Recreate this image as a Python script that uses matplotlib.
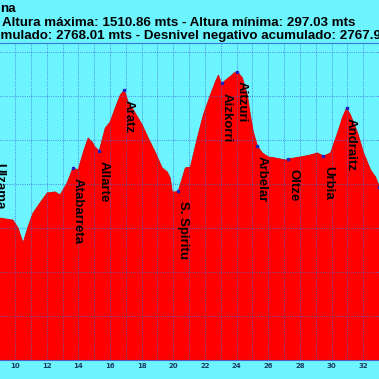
import numpy as np
import matplotlib.pyplot as plt

# perfil de altura (km, metros)
dist = [9.05, 9.87, 10.19, 10.51, 10.82, 11.14, 11.58, 12.03, 12.53, 12.85, 13.29, 13.61,
        13.67, 13.99, 14.30, 14.62, 14.87, 15.06, 15.32, 15.70, 16.01, 16.33, 16.65,
        16.90, 17.15, 17.59, 18.04, 18.42, 18.86, 19.30, 19.62, 19.81, 19.94, 20.13,
        20.32, 20.57, 20.76, 21.08, 21.52, 21.90, 22.34, 22.66, 22.85, 23.04, 23.10,
        23.48, 23.92, 24.05, 24.37, 24.68, 24.87, 25.06, 25.32, 25.63, 26.01, 26.46,
        27.09, 27.28, 28.04, 28.67, 29.11, 29.49, 29.94, 30.38, 30.70, 30.95, 31.20,
        31.65, 32.03, 32.47, 32.78, 33.04]
alt = [845, 836, 800, 732, 805, 868, 914, 959, 964, 950, 1005, 1064,
       1073, 1064, 1141, 1209, 1191, 1168, 1150, 1254, 1282, 1345, 1404,
       1427, 1373, 1323, 1268, 1209, 1145, 1073, 1055, 1027, 964, 964,
       968, 1027, 1073, 1077, 1209, 1314, 1404, 1464, 1495, 1459, 1459,
       1482, 1508, 1511, 1482, 1404, 1314, 1236, 1173, 1141, 1123, 1118,
       1109, 1114, 1123, 1132, 1141, 1127, 1141, 1232, 1304, 1345, 1314,
       1232, 1141, 1064, 1032, 986]

# puntos de paso
wp_name = ['Ulzama', 'Atabarreta', 'Allarte', 'Aratz', 'S. Spiritu', 'Aizkorri',
           'Aitzuri', 'Arbelar', 'Oltze', 'Urbia', 'Andraitz', 'Arantzazu']
wp_km = [8.73, 13.67, 15.32, 16.90, 20.32, 23.10, 24.05, 25.32, 27.28, 29.49, 30.95, 33.02]
wp_alt = [1141, 1073, 1150, 1427, 968, 1459, 1511, 1173, 1114, 1127, 1345, 986]

header = ['na',
          'Altura máxima: 1510.86 mts - Altura mínima: 297.03 mts',
          'Desnivel positivo acumulado: 2768.01 mts - Desnivel negativo acumulado: 2767.99 mts']

bg = '#6cf4ff'
fig = plt.figure(figsize=(3.79, 3.79), dpi=100)
fig.patch.set_facecolor(bg)
ax = fig.add_axes([0, 19 / 379, 1, 317 / 379])
ax.set_facecolor(bg)

ax.fill_between(dist, 200, alt, color='#ff0000', lw=0, zorder=2)
ax.plot(dist, alt, color='#e00000', lw=0.6, zorder=3)
ax.plot(wp_km, wp_alt, 's', color='#2020c0', ms=2, zorder=4, clip_on=True)

for name, x, y in zip(wp_name, wp_km, wp_alt):
    ax.annotate(name, (x, y), xytext=(-1, -7), textcoords='offset points',
                rotation=270, ha='left', va='top', fontsize=9.5,
                fontweight='bold', family='Liberation Sans', color='black',
                zorder=5, annotation_clip=False)

ax.set_xlim(9.05, 33.0)
ax.set_ylim(200, 200 + 317 / 44 * 200)
ax.set_xticks(np.arange(10, 34, 2))
ax.set_xticks(np.arange(10, 34, 1), minor=True)
ax.set_yticks(np.arange(200, 1700, 200))
ax.set_yticklabels([])
ax.tick_params(which='both', length=0)
ax.tick_params(axis='x', pad=2, labelsize=5, labelcolor='#1c3c60')
for lab in ax.get_xticklabels():
    lab.set_fontweight('bold')
ax.grid(True, which='both', color='#4468d8', ls=':', lw=0.6, zorder=6)
ax.set_axisbelow(False)
for s in ['left', 'right']:
    ax.spines[s].set_visible(False)
ax.spines['top'].set_color('#3a7ae0')
ax.spines['bottom'].set_color('#5060c0')

ys = [1 - 12 / 379, 1 - 25.5 / 379, 1 - 39 / 379]
xs = [0 / 379, 2 / 379, -136 / 379]
for t, x, y in zip(header, xs, ys):
    fig.text(x, y, t, ha='left', va='baseline', fontsize=9.6, fontweight='bold',
             family='Liberation Sans', color='black')

fig.savefig('out.png', dpi=100, facecolor=bg)
